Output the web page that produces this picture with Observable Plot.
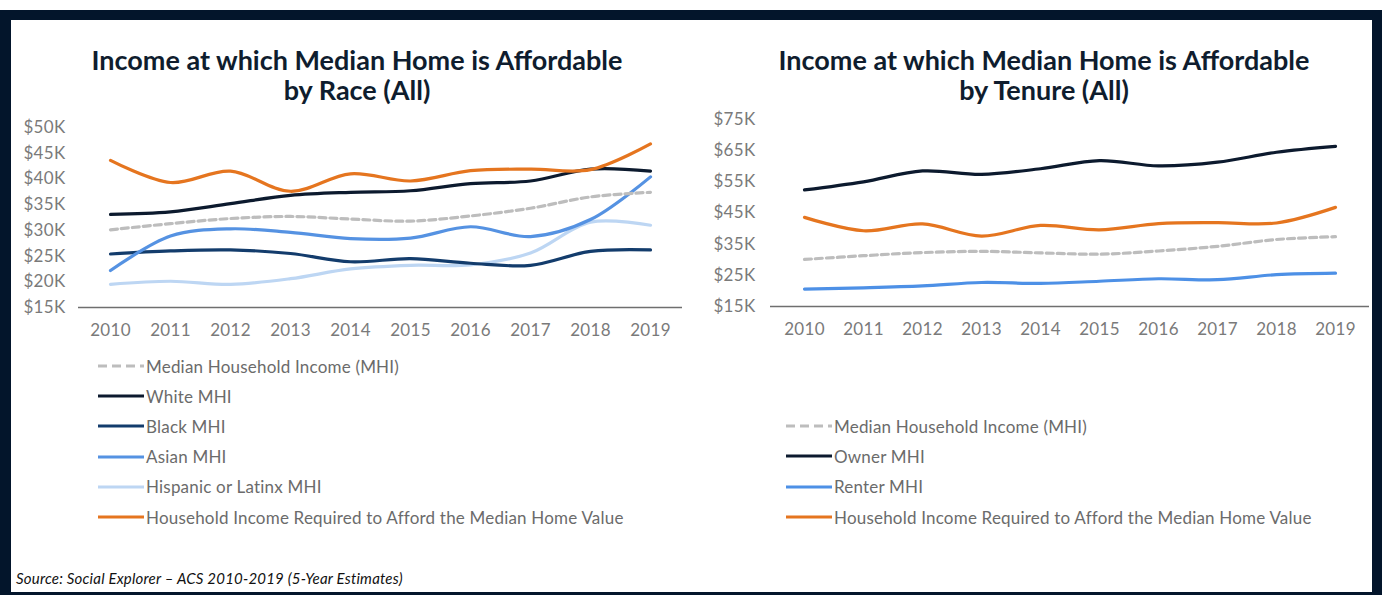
<!DOCTYPE html>
<html>
<head>
<meta charset="utf-8">
<script src="https://cdn.jsdelivr.net/npm/d3@7"></script>
<script src="https://cdn.jsdelivr.net/npm/@observablehq/plot@0.6"></script>
<style>
  html, body { margin: 0; padding: 0; background: #fff; }
  #page { position: relative; width: 1382px; height: 595px; background: #fff; overflow: hidden; font-family: Lato, "Open Sans", sans-serif; }
  #frame { position: absolute; left: 0; top: 10px; width: 1382px; height: 585px; background: #03152b; }
  #inner { position: absolute; left: 11px; top: 20px; width: 1361px; height: 572px; background: #fff; }
  .title { position: absolute; width: 700px; text-align: center; font-weight: 700; font-size: 27px; line-height: 30px; color: #0f1d2e; }
  .chart { position: absolute; top: 110px; }
  .legend { position: absolute; font-size: 17px; letter-spacing: 0.2px; color: #6b6b6b; }
  .legend .row { position: absolute; left: 0; white-space: nowrap; display: flex; align-items: center; height: 20px; }
  .legend svg { display: block; margin-right: 1px; }
  #source { position: absolute; left: 16px; top: 569px; font-size: 15px; letter-spacing: 0.2px; font-style: italic; color: #111; }
</style>
</head>
<body>
<div id="page">
  <div id="frame"></div>
  <div id="inner"></div>
  <div class="title" id="title1" style="left:7px; top:45px;"></div>
  <div class="title" id="title2" style="left:694px; top:45px;"></div>
  <div class="chart" id="chart1" style="left:0px;"></div>
  <div class="chart" id="chart2" style="left:690px;"></div>
  <div class="legend" id="legend1" style="left:97px; top:356px;"></div>
  <div class="legend" id="legend2" style="left:785px; top:416px;"></div>
  <div id="source"></div>
</div>
<script>
// ---------- data ----------
const years = ["2010","2011","2012","2013","2014","2015","2016","2017","2018","2019"];

const title1 = ["Income at which Median Home is Affordable", "by Race (All)"];
const title2 = ["Income at which Median Home is Affordable", "by Tenure (All)"];
const sourceText = "Source: Social Explorer \u2013 ACS 2010-2019 (5-Year Estimates)";

// values in $K
const mhi        = [30.1, 31.3, 32.3, 32.7, 32.2, 31.8, 32.8, 34.3, 36.5, 37.4];
const whiteMHI   = [33.1, 33.6, 35.2, 36.8, 37.4, 37.7, 39.1, 39.6, 41.9, 41.5];
const blackMHI   = [25.4, 26.0, 26.2, 25.5, 23.9, 24.5, 23.6, 23.2, 25.9, 26.2];
const asianMHI   = [22.2, 28.9, 30.3, 29.6, 28.4, 28.5, 30.7, 28.8, 32.1, 40.4];
const hispMHI    = [19.5, 20.1, 19.5, 20.6, 22.5, 23.2, 23.3, 25.6, 31.6, 31.0];
const requiredHI = [43.6, 39.3, 41.5, 37.6, 41.0, 39.6, 41.6, 41.9, 41.8, 46.8];
const ownerMHI   = [52.4, 55.0, 58.5, 57.4, 59.2, 61.8, 60.1, 61.3, 64.5, 66.4];
const renterMHI  = [20.6, 21.0, 21.6, 22.7, 22.4, 23.1, 23.9, 23.6, 25.2, 25.7];

const yTicks1 = [15, 20, 25, 30, 35, 40, 45, 50];
const yTicks2 = [15, 25, 35, 45, 55, 65, 75];

const seriesLeft = [
  {name: "Median Household Income (MHI)", values: mhi, color: "#bdbdbd", dash: "7,4"},
  {name: "White MHI", values: whiteMHI, color: "#0c1a2e"},
  {name: "Black MHI", values: blackMHI, color: "#133c6c"},
  {name: "Asian MHI", values: asianMHI, color: "#5592e2"},
  {name: "Hispanic or Latinx MHI", values: hispMHI, color: "#bdd6f3"},
  {name: "Household Income Required to Afford the Median Home Value", values: requiredHI, color: "#e5751f"}
];
const seriesRight = [
  {name: "Median Household Income (MHI)", values: mhi, color: "#bdbdbd", dash: "7,4"},
  {name: "Owner MHI", values: ownerMHI, color: "#0c1a2e"},
  {name: "Renter MHI", values: renterMHI, color: "#4d90e6"},
  {name: "Household Income Required to Afford the Median Home Value", values: requiredHI, color: "#e5751f"}
];
// draw order (last on top)
const drawOrderLeft = [4, 2, 3, 0, 1, 5];
const drawOrderRight = [0, 2, 1, 3];

// ---------- render ----------
function rows(s) { return years.map((y, i) => ({year: y, value: s.values[i]})); }

function makeChart(series, order, yTicks, opts) {
  const marks = [
    Plot.ruleY([yTicks[0]], {stroke: "#6f6f6f", strokeWidth: 1.5}),
    Plot.axisY({ticks: yTicks, tickSize: 0, tickPadding: opts.tickPadY, tickFormat: d => `$${d}K`, label: null}),
    Plot.axisX({tickSize: 0, tickPadding: 16, label: null})
  ];
  for (const idx of order) {
    const s = series[idx];
    marks.push(Plot.line(rows(s), {
      x: "year", y: "value", stroke: s.color, strokeWidth: 3.2,
      strokeDasharray: s.dash || null, curve: "catmull-rom"
    }));
  }
  return Plot.plot({
    width: opts.width, height: 240,
    marginLeft: opts.ml, marginRight: opts.mr, marginTop: opts.mt, marginBottom: opts.mb,
    x: {type: "point", domain: years, padding: 0.5},
    y: {domain: [yTicks[0], yTicks[yTicks.length - 1]]},
    style: {fontFamily: "Lato, sans-serif", fontSize: "17px", letterSpacing: "0.3px", color: "#7a7a7a", background: "transparent", overflow: "visible"},
    marks
  });
}

document.getElementById("chart1").append(makeChart(seriesLeft, drawOrderLeft, yTicks1,
  {width: 690, ml: 78, mr: 8, mt: 17, mb: 43, tickPadY: 13}));
document.getElementById("chart2").append(makeChart(seriesRight, drawOrderRight, yTicks2,
  {width: 692, ml: 80, mr: 13, mt: 9, mb: 44, tickPadY: 15}));

function makeLegend(el, series, spacing) {
  series.forEach((s, i) => {
    const row = document.createElement("div");
    row.className = "row";
    row.style.top = (i * spacing) + "px";
    const svg = d3.create("svg").attr("width", 48).attr("height", 20);
    svg.append("line").attr("x1", 1).attr("x2", 47).attr("y1", 10).attr("y2", 10)
      .attr("stroke", s.color).attr("stroke-width", 3.2)
      .attr("stroke-dasharray", s.dash ? "9,5" : null);
    row.append(svg.node());
    const t = document.createElement("span");
    t.textContent = s.name;
    row.append(t);
    el.append(row);
  });
}
makeLegend(document.getElementById("legend1"), seriesLeft, 30.2);
makeLegend(document.getElementById("legend2"), seriesRight, 30.4);

document.getElementById("title1").innerHTML = title1.join("<br>");
document.getElementById("title2").innerHTML = title2.join("<br>");
document.getElementById("source").textContent = sourceText;
</script>
</body>
</html>
